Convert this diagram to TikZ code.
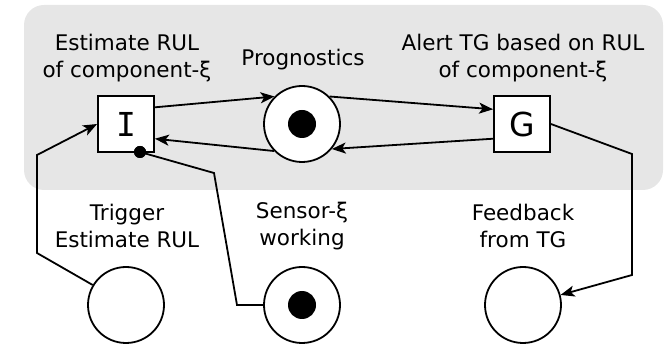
\documentclass[tikz,border=0pt]{standalone}
\usepackage{fontspec}
\setmainfont{DejaVu Sans}
\newfontfamily\monof{DejaVu Sans Mono}
\usetikzlibrary{arrows.meta,calc}
\definecolor{bggray}{HTML}{E6E6E6}
\tikzset{
  trans/.style={draw, fill=white, line width=1.8pt, minimum size=56pt, inner sep=0pt, font=\fontsize{33}{33}\selectfont},
  place/.style={draw, fill=white, circle, line width=1.8pt, minimum size=76pt, inner sep=0pt},
  tok/.style={circle, fill=black, minimum size=28pt, inner sep=0pt},
  lbl/.style={align=center, font=\fontsize{21.5}{27}\selectfont},
  arc/.style={line width=1.8pt, -{Stealth[length=14pt,width=11pt,inset=3.5pt]}},
  conn/.style={line width=1.8pt},
}
\begin{document}
\begin{tikzpicture}[x=1pt,y=-1pt]
\useasboundingbox (0,0) rectangle (669,344);
\fill[bggray, rounded corners=20pt] (24,5) rectangle (663,190);

\node[trans] (I) at (126,124) {\monof I};
\node[trans] (G) at (522,124) {G};
\node[place] (P) at (302,124) {};
\node[tok] (Pt) at (302,124) {};
\node[place] (T) at (126,305) {};
\node[place] (S) at (302,305) {};
\node[tok] (St) at (302,305) {};
\node[place] (F) at (523,305) {};
\node[circle, fill=black, minimum size=12pt, inner sep=0pt] (inh) at (140,152) {};

\node[lbl] (lI) at (127,58) {Estimate RUL\\of component-ξ};
\node[lbl] (lP) at (303,60) {Prognostics};
\node[lbl] (lG) at (523,58) {Alert TG based on RUL\\of component-ξ};
\node[lbl] (lT) at (127,226) {Trigger\\Estimate RUL};
\node[lbl] (lS) at (302,226) {Sensor-ξ\\working};
\node[lbl] (lF) at (523,226) {Feedback\\from TG};

\coordinate (t1) at (37,253);
\coordinate (t2) at (37,155);
\coordinate (s1) at (214,173);
\coordinate (s2) at (237,305);
\coordinate (g1) at (632,154);
\coordinate (g2) at (632,275);

\draw[arc] (I.30) -- (P.135);
\draw[arc] (P.45) -- (G.153);
\draw[arc] (G.207) -- (P.-40);
\draw[arc] (P.224) -- (I.-27);
\draw[arc] (T.149) -- (t1) -- (t2) -- (I.west);
\draw[conn] (inh.center) -- (s1) -- (s2) -- (S.west);
\draw[arc] (G.east) -- (g1) -- (g2) -- (F.15);
\node[circle, fill=black, minimum size=12pt, inner sep=0pt] at (inh) {};
\end{tikzpicture}
\end{document}
